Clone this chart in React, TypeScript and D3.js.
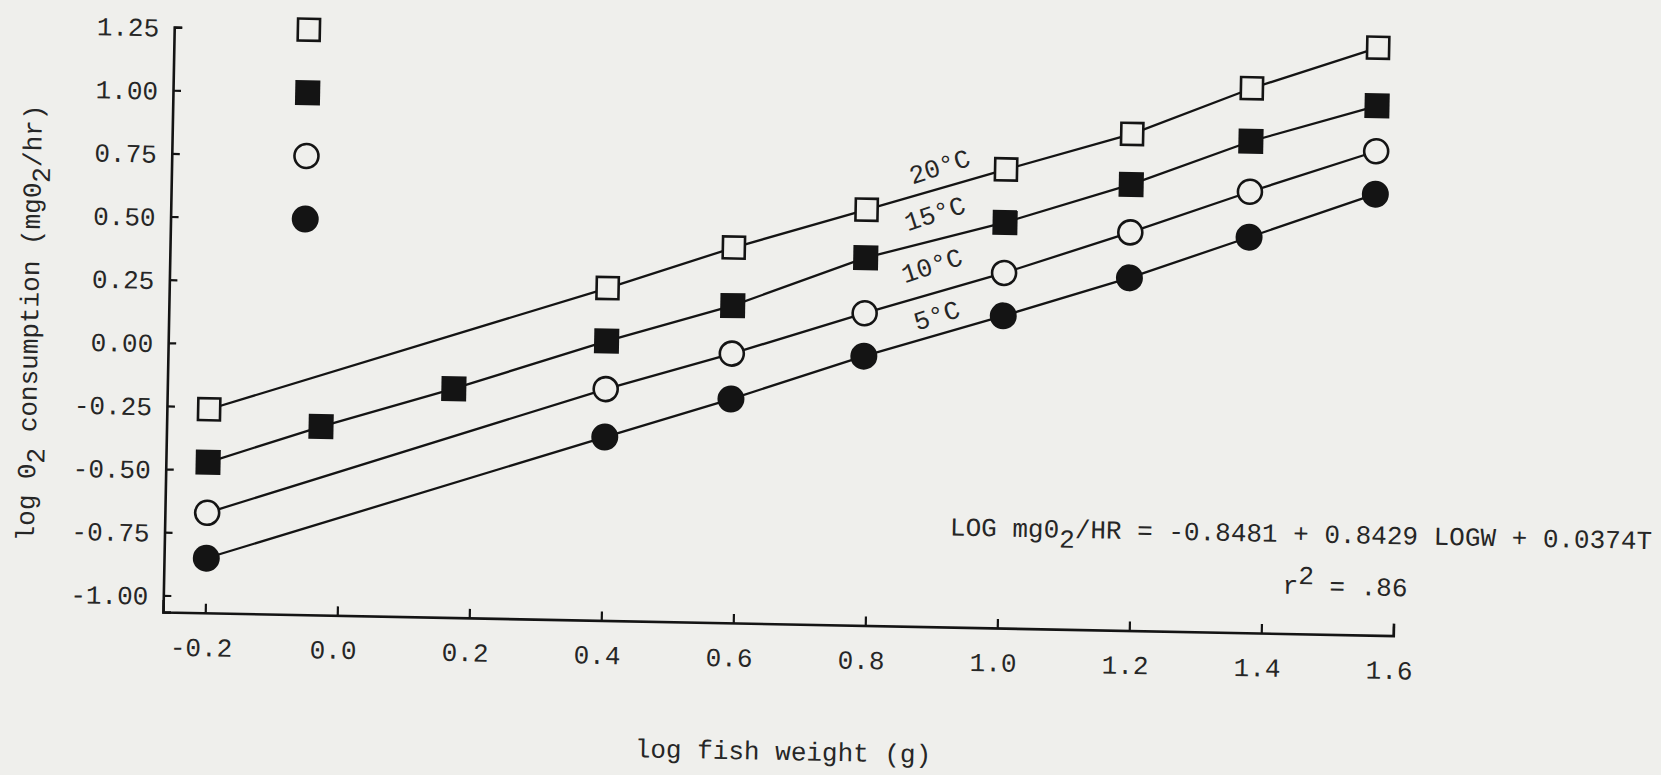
import React, { useEffect, useRef } from "react";
import * as d3 from "d3";

// log fish weight columns (g) and log O2 consumption (mg O2/hr)
const weights = [-0.2, 0.4, 0.59, 0.79, 1.0, 1.19, 1.37, 1.56];
const weights15 = [-0.2, -0.03, 0.17, 0.4, 0.59, 0.79, 1.0, 1.19, 1.37, 1.56];
const o2At20 = [-0.26, 0.25, 0.42, 0.58, 0.75, 0.9, 1.09, 1.26];
const o2At15 = [-0.47, -0.32, -0.16, 0.04, 0.19, 0.39, 0.54, 0.7, 0.88, 1.03];
const o2At10 = [-0.67, -0.15, 0.0, 0.17, 0.34, 0.51, 0.68, 0.85];
const o2At5 = [-0.85, -0.34, -0.18, 0.0, 0.17, 0.33, 0.5, 0.68];

const xTicks = [-0.2, 0, 0.2, 0.4, 0.6, 0.8, 1.0, 1.2, 1.4, 1.6];
const yTicks = [1.25, 1.0, 0.75, 0.5, 0.25, 0, -0.25, -0.5, -0.75, -1.0];

const seriesNames = ["20°C", "15°C", "10°C", "5°C"];
// legend column (no text, just the symbols) and where the temperature labels sit
const legendWeight = -0.06;
const legendLevels = [1.25, 1.0, 0.75, 0.5];
const labelSpots = [
  [0.9, 0.75],
  [0.894, 0.564],
  [0.891, 0.358],
  [0.9, 0.161],
];

const PAPER = "#efefec";
const INK = "#141414";
const FONT = "'Liberation Mono', 'DejaVu Sans Mono', monospace";

export default function App() {
  const svgRef = useRef<SVGSVGElement>(null);

  useEffect(() => {
    const svg = d3.select(svgRef.current);
    svg.selectAll("*").remove();

    svg.append("rect").attr("width", 1661).attr("height", 775).attr("fill", PAPER);

    // the page was scanned a little crooked, so the whole plot is turned ~1 degree
    const ox = 163;
    const oy = 612;
    const tilt = 1.1;
    const rad = (tilt * Math.PI) / 180;
    const unrot = (sx: number, sy: number) => {
      const dx = sx - ox;
      const dy = sy - oy;
      return [
        ox + dx * Math.cos(rad) + dy * Math.sin(rad),
        oy - dx * Math.sin(rad) + dy * Math.cos(rad),
      ];
    };

    const g = svg.append("g").attr("transform", `rotate(${tilt},${ox},${oy})`);

    const x = d3.scaleLinear().domain([-0.264, 1.6]).range([ox, 1393.5]);
    const y = d3.scaleLinear().domain([-1.066, 1.25]).range([oy, 27]);

    //axes
    const yAxis = d3
      .axisLeft(y)
      .tickValues(yTicks)
      .tickSizeInner(-8)
      .tickSizeOuter(-8)
      .tickPadding(15)
      .tickFormat((d: any) => (+d).toFixed(2));
    const ya = g.append("g").attr("transform", `translate(${ox},0)`).call(yAxis);

    const xAxis = d3
      .axisBottom(x)
      .tickValues(xTicks)
      .tickSizeInner(-9)
      .tickSizeOuter(-12)
      .tickPadding(25)
      .tickFormat((d: any) => (+d).toFixed(1));
    const xa = g.append("g").attr("transform", `translate(0,${oy})`).call(xAxis);

    [ya, xa].forEach((a) => {
      a.attr("font-family", FONT).attr("font-size", 26);
      a.select(".domain").attr("stroke", INK).attr("stroke-width", 2.6);
      a.selectAll(".tick line").attr("stroke", INK).attr("stroke-width", 2.2);
      a.selectAll(".tick text").attr("fill", "#262626");
    });
    ya.selectAll(".tick text").attr("dy", "0.35em");
    xa.selectAll(".tick text").attr("dx", -4);

    //series
    const series = [
      { x: weights, y: o2At20, shape: "square", filled: false },
      { x: weights15, y: o2At15, shape: "square", filled: true },
      { x: weights, y: o2At10, shape: "circle", filled: false },
      { x: weights, y: o2At5, shape: "circle", filled: true },
    ];

    const line = d3
      .line<number[]>()
      .x((d) => x(d[0]))
      .y((d) => y(d[1]));

    const drawMarker = (sel: any, shape: string, filled: boolean, cx: number, cy: number) => {
      if (shape === "square") {
        const s = filled ? 25 : 22;
        sel
          .append("rect")
          .attr("x", cx - s / 2)
          .attr("y", cy - s / 2)
          .attr("width", s)
          .attr("height", s)
          .attr("fill", filled ? INK : PAPER)
          .attr("stroke", INK)
          .attr("stroke-width", filled ? 0 : 2.6);
      } else {
        sel
          .append("circle")
          .attr("cx", cx)
          .attr("cy", cy)
          .attr("r", filled ? 13.5 : 12)
          .attr("fill", filled ? INK : PAPER)
          .attr("stroke", INK)
          .attr("stroke-width", filled ? 0 : 2.6);
      }
    };

    series.forEach((s, i) => {
      const pts = s.x.map((w, j) => [w, s.y[j]]);
      g.append("path")
        .attr("d", line(pts))
        .attr("fill", "none")
        .attr("stroke", INK)
        .attr("stroke-width", 2.3);
      const mg = g.append("g");
      pts.forEach((p) => drawMarker(mg, s.shape, s.filled, x(p[0]), y(p[1])));

      // legend symbol
      drawMarker(g, s.shape, s.filled, x(legendWeight), y(legendLevels[i]));

      // temperature label along the line
      const [lx, ly] = labelSpots[i];
      g.append("text")
        .attr("transform", `translate(${x(lx)},${y(ly)}) rotate(-19)`)
        .attr("text-anchor", "middle")
        .attr("dominant-baseline", "central")
        .attr("font-family", FONT)
        .attr("font-size", 26)
        .attr("fill", "#262626")
        .text(seriesNames[i]);
    });

    //titles and fit
    const txt = (sx: number, sy: number, anchor: string, rot = 0) => {
      const [px, py] = unrot(sx, sy);
      return g
        .append("text")
        .attr("transform", `translate(${px},${py}) rotate(${rot})`)
        .attr("text-anchor", anchor)
        .attr("dominant-baseline", "central")
        .attr("font-family", FONT)
        .attr("font-size", 26)
        .attr("fill", "#262626");
    };

    const yt = txt(31, 323, "middle", -90);
    yt.append("tspan").text("log 0");
    yt.append("tspan").attr("dy", 9).text("2");
    yt.append("tspan").attr("dy", -9).text(" consumption (mg0");
    yt.append("tspan").attr("dy", 9).text("2");
    yt.append("tspan").attr("dy", -9).text("/hr)");

    txt(783, 753, "middle").text("log fish weight (g)");

    const eq = txt(1652, 542, "end");
    eq.append("tspan").text("LOG mg0");
    eq.append("tspan").attr("dy", 10).text("2");
    eq.append("tspan").attr("dy", -10).text("/HR = -0.8481 + 0.8429 LOGW + 0.0374T");

    const r2 = txt(1345, 588, "middle");
    r2.append("tspan").text("r");
    r2.append("tspan").attr("dy", -10).text("2");
    r2.append("tspan").attr("dy", 10).text(" = .86");
  }, []);

  return (
    <svg
      ref={svgRef}
      width={1661}
      height={775}
      style={{ position: "absolute", left: 0, top: 0 }}
    />
  );
}
